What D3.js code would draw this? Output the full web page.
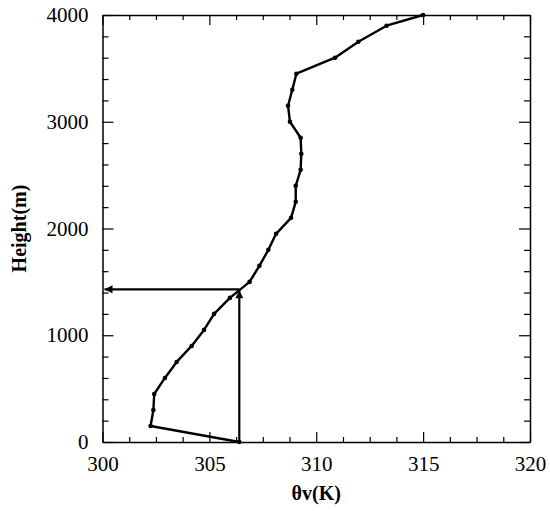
<!DOCTYPE html>
<html>
<head>
<meta charset="utf-8">
<script src="https://cdn.jsdelivr.net/npm/d3@7"></script>
<style>
  html, body { margin: 0; padding: 0; background: #fff; }
  svg { display: block; }
  text { font-family: "Liberation Serif", "Times New Roman", serif; fill: #000; }
</style>
</head>
<body>
<svg id="chart" width="550" height="511"></svg>
<script>
// Data
const heights = [0, 150, 300, 450, 600, 750, 900, 1050, 1200, 1350, 1500, 1650, 1800, 1950, 2100, 2250, 2400, 2550, 2700, 2850, 3000, 3150, 3300, 3450, 3600, 3750, 3900, 4000];
const thetaV  = [306.4, 302.25, 302.38, 302.42, 302.92, 303.47, 304.17, 304.75, 305.22, 305.96, 306.88, 307.34, 307.76, 308.12, 308.82, 309.04, 309.04, 309.27, 309.3, 309.27, 308.77, 308.68, 308.88, 309.07, 310.88, 311.97, 313.29, 315.0];
const xTicks = [300, 305, 310, 315, 320];
const yTicks = [0, 1000, 2000, 3000, 4000];
// Arrow annotation: vertical from surface to mixed-layer top, then horizontal to axis
const arrowTheta = 306.4;
const arrowHeight = 1430;
const xLabel = "θv(K)";
const yLabel = "Height(m)";

(function () {
const svg = d3.select("#chart");
const margin = { left: 102.5, right: 20, top: 15, bottom: 69 };
const W = 550, H = 511;
const x = d3.scaleLinear().domain([300, 320]).range([margin.left, W - margin.right]);
const y = d3.scaleLinear().domain([0, 4000]).range([H - margin.bottom, margin.top]);

const xMinor = d3.range(300, 320.001, 1.25).filter(v => !xTicks.includes(v));
const yMinor = d3.range(0, 4000.001, 200).filter(v => !yTicks.includes(v));

const g = svg.append("g");

function styleAxis(sel) {
  sel.selectAll("path.domain").attr("stroke", "#000").attr("stroke-width", 1.5);
  sel.selectAll(".tick line").attr("stroke", "#000").attr("stroke-width", 1.2);
}

// bottom axis with labels (inward ticks)
const axB = g.append("g").attr("transform", `translate(0,${y(0)})`)
  .call(d3.axisBottom(x).tickValues(xTicks).tickSize(-10).tickSizeOuter(0).tickPadding(14).tickFormat(d3.format("d")));
axB.selectAll("text").attr("font-size", 21).attr("dy", "0.71em");
styleAxis(axB);
g.append("g").attr("transform", `translate(0,${y(0)})`)
  .call(d3.axisBottom(x).tickValues(xMinor).tickSize(-5).tickSizeOuter(0).tickFormat(""))
  .call(styleAxis).select("path.domain").remove();

// top axis
const axT = g.append("g").attr("transform", `translate(0,${y(4000)})`)
  .call(d3.axisTop(x).tickValues(xTicks).tickSize(-10).tickSizeOuter(0).tickFormat(""));
styleAxis(axT);
g.append("g").attr("transform", `translate(0,${y(4000)})`)
  .call(d3.axisTop(x).tickValues(xMinor).tickSize(-5).tickSizeOuter(0).tickFormat(""))
  .call(styleAxis).select("path.domain").remove();

// left axis
const axL = g.append("g").attr("transform", `translate(${x(300)},0)`)
  .call(d3.axisLeft(y).tickValues(yTicks).tickSize(-11).tickSizeOuter(0).tickPadding(14).tickFormat(d3.format("d")));
axL.selectAll("text").attr("font-size", 21);
styleAxis(axL);
g.append("g").attr("transform", `translate(${x(300)},0)`)
  .call(d3.axisLeft(y).tickValues(yMinor).tickSize(-6).tickSizeOuter(0).tickFormat(""))
  .call(styleAxis).select("path.domain").remove();

// right axis
const axR = g.append("g").attr("transform", `translate(${x(320)},0)`)
  .call(d3.axisRight(y).tickValues(yTicks).tickSize(-11).tickSizeOuter(0).tickFormat(""));
styleAxis(axR);
g.append("g").attr("transform", `translate(${x(320)},0)`)
  .call(d3.axisRight(y).tickValues(yMinor).tickSize(-6).tickSizeOuter(0).tickFormat(""))
  .call(styleAxis).select("path.domain").remove();

// profile line
const pts = heights.map((h, i) => ({ h, t: thetaV[i] }));
g.append("path")
  .datum(pts)
  .attr("fill", "none")
  .attr("stroke", "#000")
  .attr("stroke-width", 2.4)
  .attr("stroke-linejoin", "round")
  .attr("d", d3.line().x(d => x(d.t)).y(d => y(d.h)));
g.selectAll("circle.pt").data(pts).join("circle")
  .attr("class", "pt")
  .attr("cx", d => x(d.t)).attr("cy", d => y(d.h)).attr("r", 2.3).attr("fill", "#000");

// arrows
const defs = svg.append("defs");
defs.append("marker").attr("id", "ah")
  .attr("viewBox", "0 0 10 10").attr("refX", 10).attr("refY", 5)
  .attr("markerWidth", 10).attr("markerHeight", 8).attr("markerUnits", "userSpaceOnUse")
  .attr("orient", "auto")
  .append("path").attr("d", "M0,0 L10,5 L0,10 Z").attr("fill", "#000");

g.append("line")
  .attr("x1", x(arrowTheta)).attr("y1", y(0))
  .attr("x2", x(arrowTheta)).attr("y2", y(arrowHeight) + 1)
  .attr("stroke", "#000").attr("stroke-width", 2.2).attr("marker-end", "url(#ah)");
g.append("line")
  .attr("x1", x(arrowTheta)).attr("y1", y(arrowHeight))
  .attr("x2", x(300) + 2).attr("y2", y(arrowHeight))
  .attr("stroke", "#000").attr("stroke-width", 2.2).attr("marker-end", "url(#ah)");

// axis titles
svg.append("text")
  .attr("x", (x(300) + x(320)) / 2).attr("y", 500)
  .attr("text-anchor", "middle").attr("font-size", 20).attr("font-weight", "bold")
  .text(xLabel);
svg.append("text")
  .attr("transform", `translate(26,${(y(0) + y(4000)) / 2}) rotate(-90)`)
  .attr("text-anchor", "middle").attr("font-size", 20).attr("font-weight", "bold")
  .text(yLabel);
})();
</script>
</body>
</html>
